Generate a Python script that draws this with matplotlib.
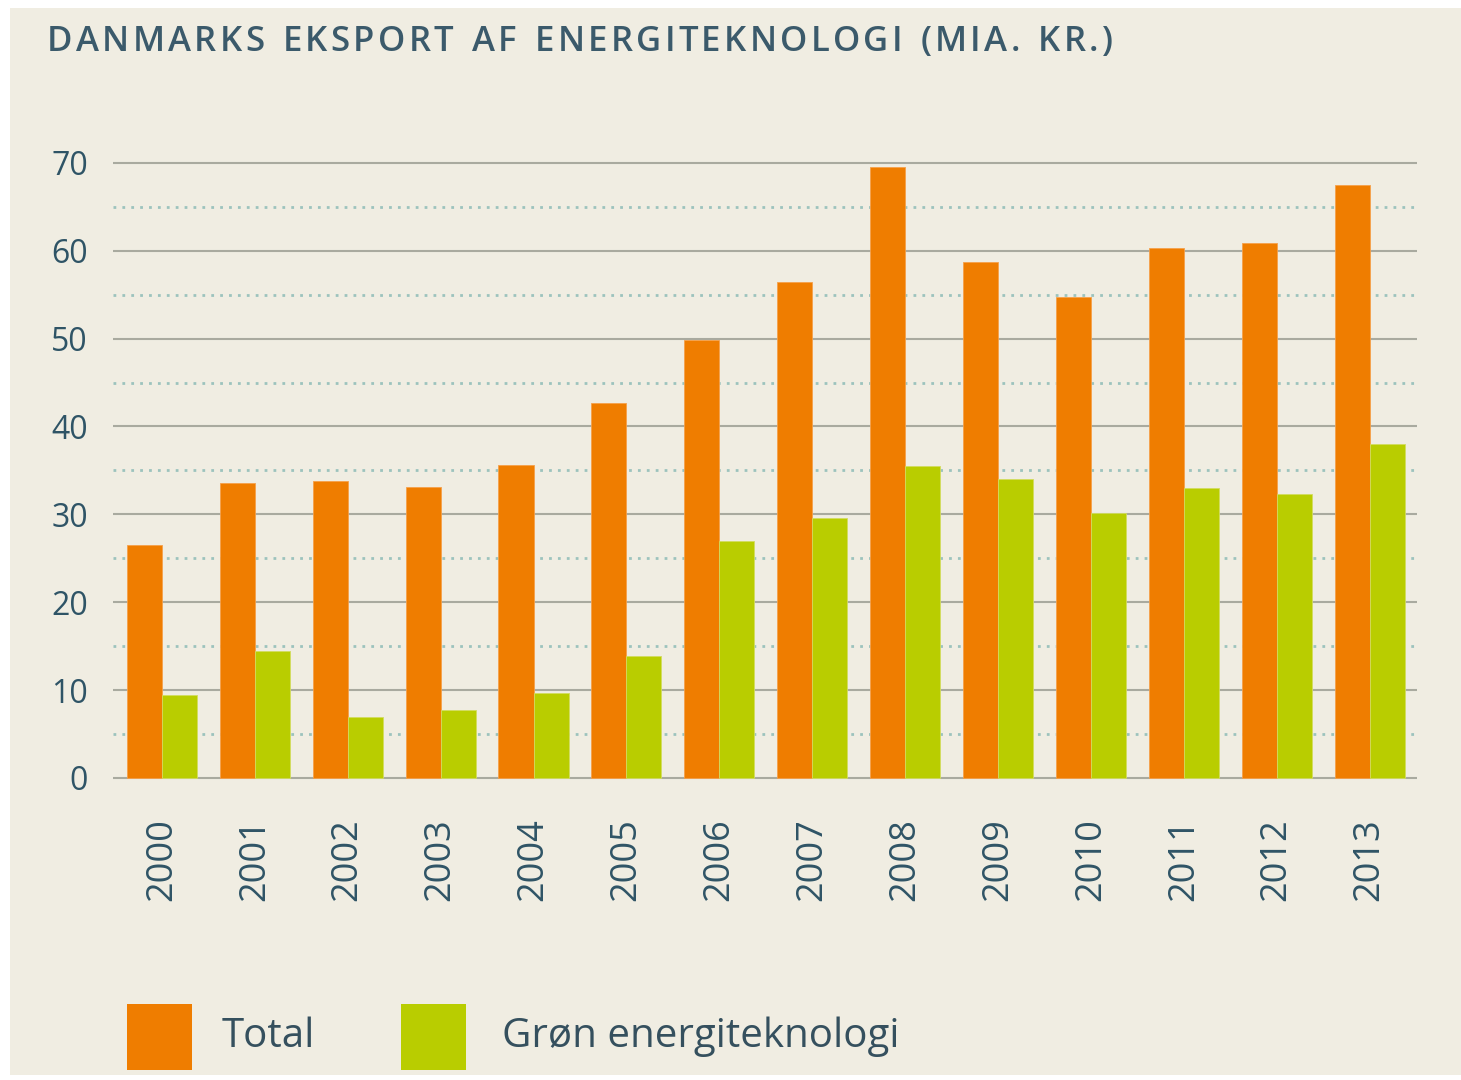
import matplotlib
matplotlib.use("Agg")
import matplotlib.pyplot as plt
from matplotlib.patches import Rectangle
import numpy as np

plt.rcParams['font.family'] = ['Open Sans', 'DejaVu Sans']

years = ['2000', '2001', '2002', '2003', '2004', '2005', '2006',
         '2007', '2008', '2009', '2010', '2011', '2012', '2013']
total = [26.5, 33.6, 33.8, 33.1, 35.6, 42.7, 49.9,
         56.5, 69.5, 58.7, 54.7, 60.3, 60.9, 67.5]
groen = [9.4, 14.5, 6.9, 7.7, 9.7, 13.9, 27.0,
         29.6, 35.5, 34.0, 30.2, 33.0, 32.3, 38.0]
series_names = ['Total', 'Grøn energiteknologi']
yticks = [0, 10, 20, 30, 40, 50, 60, 70]
yminor = [5, 15, 25, 35, 45, 55, 65]
title = 'DANMARKS EKSPORT AF ENERGITEKNOLOGI (MIA. KR.)'

bg = '#f0ede2'
orange = '#ef7d00'
green = '#b9cd00'
txt = '#2f5466'

fig = plt.figure(figsize=(14.61, 10.8), dpi=100)
fig.patch.set_facecolor('white')
fig.add_artist(Rectangle((10 / 1461, 5 / 1080), 1 - 10 / 1461, 1 - 13 / 1080,
                         transform=fig.transFigure, facecolor=bg,
                         edgecolor='none', zorder=0))

ax = fig.add_axes([0.0773, 0.2756, 0.8926, 0.5817])
ax.set_facecolor('none')
x = np.arange(len(years))
w = 0.377
ax.bar(x - w / 2, total, w, color=orange, edgecolor='#f5a04a', linewidth=0.6, zorder=3)
ax.bar(x + w / 2, groen, w, color=green, edgecolor='#d2dc60', linewidth=0.6, zorder=3)

for v in yticks:
    ax.axhline(v, color='#a9aa9f', lw=1.5, zorder=1)
for v in yminor:
    ax.axhline(v, color='#9cc3bd', lw=2.0, linestyle=(0, (1, 2.2)), zorder=1)

ax.set_xlim(-0.527, 13.51)
ax.set_ylim(-0.5, 71)
ax.set_yticks(yticks)
ax.set_yticklabels([str(v) for v in yticks], fontsize=23, color=txt)
ax.set_xticks(x)
ax.set_xticklabels(years, rotation=90, fontsize=26, color=txt)
ax.tick_params(axis='y', length=0, pad=18)
ax.tick_params(axis='x', length=0, pad=26)
for s in ax.spines.values():
    s.set_visible(False)

# title with letter spacing
renderer = fig.canvas.get_renderer()
px = 47.0
for ch in title:
    t = fig.text(px / 1461, 1 - 42 / 1080, ch, fontsize=25, color='#3b5a6b',
                 fontweight='semibold', va='center', ha='left')
    if ch == ' ':
        px += 15
    else:
        px += t.get_window_extent(renderer).width + 3.3

# legend
leg_x = [127, 401]
txt_x = [222, 502]
for name, col, lx, tx in zip(series_names, [orange, green], leg_x, txt_x):
    fig.add_artist(Rectangle((lx / 1461, 1 - 1070 / 1080), 65 / 1461, 66 / 1080,
                             transform=fig.transFigure, facecolor=col,
                             edgecolor='none', zorder=2))
    fig.text(tx / 1461, 1 - 1037 / 1080, name, fontsize=29, color='#35505e',
             va='center', ha='left')

fig.savefig('out.png', dpi=100, facecolor=fig.get_facecolor())
